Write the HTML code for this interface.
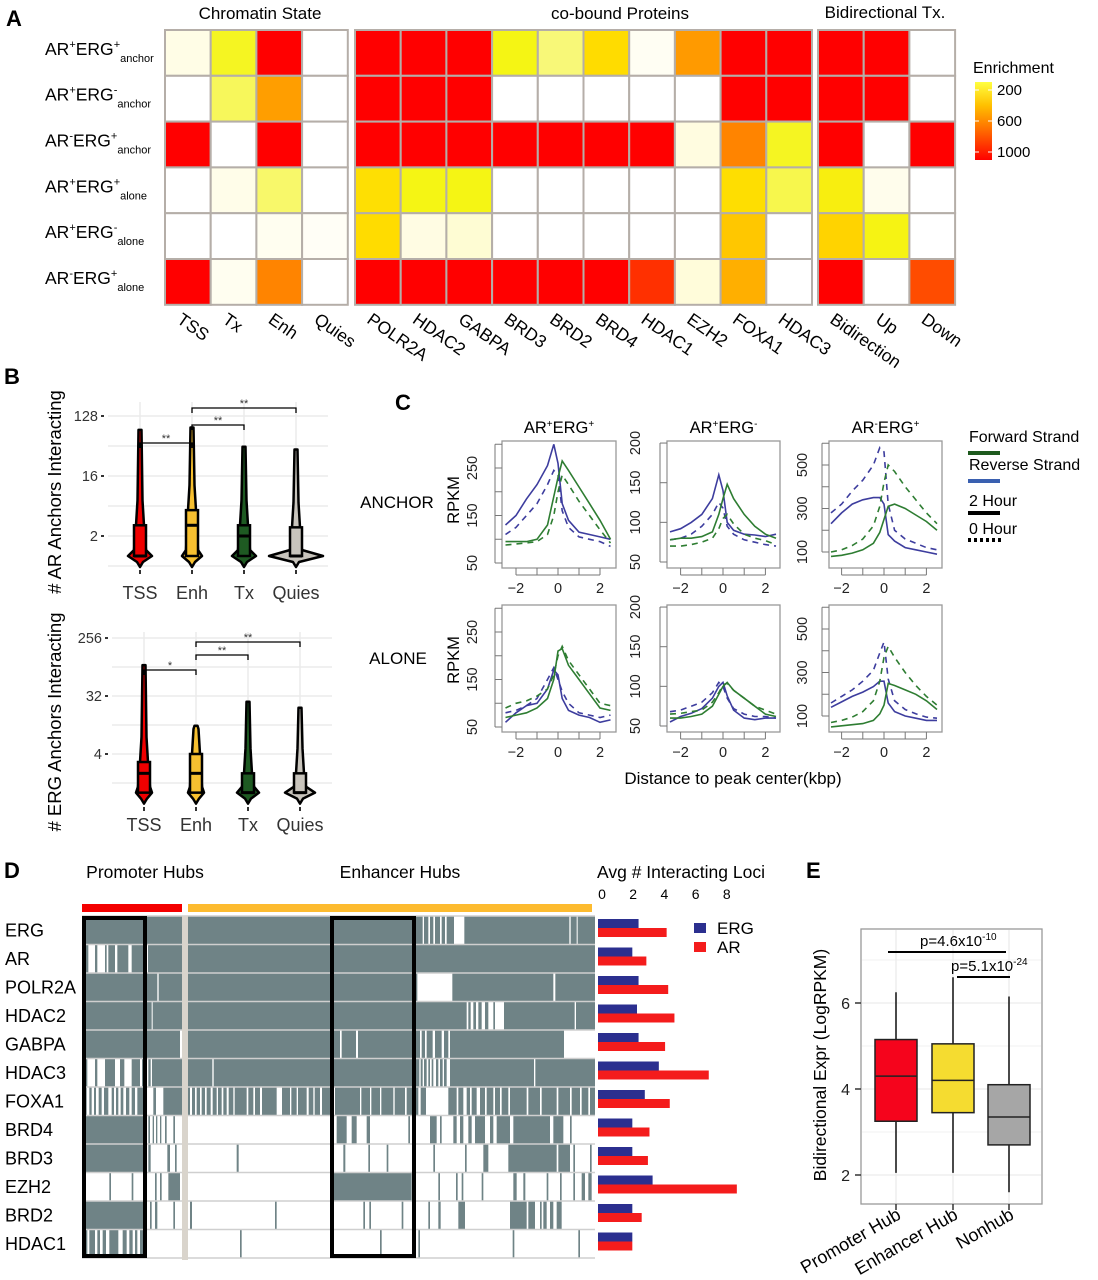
<!DOCTYPE html>
<html><head><meta charset="utf-8"><style>
html,body{margin:0;padding:0;background:#fff;}
svg{display:block;font-family:"Liberation Sans",Arial,sans-serif;}
</style></head><body>
<svg id="fig" width="1098" height="1280" viewBox="0 0 1098 1280" xmlns="http://www.w3.org/2000/svg">
<g font-weight="bold" font-size="22" fill="#000">
<text x="6" y="26">A</text>
<text x="4" y="384">B</text>
<text x="395" y="410">C</text>
<text x="4" y="878">D</text>
<text x="806" y="878">E</text>
</g>
<g id="A"></g>
<g id="B"></g>
<g id="C"></g>
<g id="D"></g>
<g id="E"></g>
</svg>
<script>
const NS="http://www.w3.org/2000/svg";
function mk(parent,tag,attrs,text){const e=document.createElementNS(NS,tag);for(const k in attrs)e.setAttribute(k,attrs[k]);if(text!==undefined)e.textContent=text;parent.appendChild(e);return e;}

/* ---------- Panel A data ---------- */
const rowLabelsA=[["+","+","anchor"],["+","-","anchor"],["-","+","anchor"],["+","+","alone"],["+","-","alone"],["-","+","alone"]];
const chromCols=["TSS","Tx","Enh","Quies"];
const protCols=["POLR2A","HDAC2","GABPA","BRD3","BRD2","BRD4","HDAC1","EZH2","FOXA1","HDAC3"];
const bidiCols=["Bidirection","Up","Down"];
const chromVals=[[40,190,1000,0],[0,150,560,0],[1000,0,1000,0],[0,35,140,0],[0,0,25,15],[1000,25,680,0]];
const protVals=[[1000,1000,1000,200,130,350,20,580,1000,1000],[1000,1000,1000,0,0,0,0,0,1000,1000],[1000,1000,1000,1000,1000,1000,1000,50,680,190],[330,200,200,0,0,0,0,0,340,160],[350,45,60,0,0,0,0,0,420,0],[1000,1000,1000,1000,1000,1000,900,55,500,0]];
const bidiVals=[[1000,1000,0],[1000,1000,0],[1000,0,1000],[240,30,0],[380,210,0],[1000,0,830]];
const legendTicks=[200,600,1000];

/* ---------- Panel B data ---------- */
const catsB=["TSS","Enh","Tx","Quies"];
const colorsB=["#f00000","#f7c030","#1e5a22","#c8c4bc"];
const arQ3=[2.9,4.9,2.9,2.7], arMed=[1,2.9,2,1], arMax=[79,86,44,40], arMin=[1,1,1,1];
const ergQ3=[3,4,2,2], ergMed=[2,2,1,1], ergMax=[97,11,26,21], ergMin=[1,1,1,1];
const arTicks=[2,16,128], ergTicks=[4,32,256];

/* ---------- Panel C data ---------- */
const xsC=[-2.5,-2,-1.5,-1,-0.5,-0.2,0,0.2,0.5,1,1.5,2,2.5];
const c1aBlue=[130,150,185,215,255,300,260,175,140,115,110,105,100];
const c1aBlueD=[110,125,150,175,215,245,235,160,125,105,100,95,85];
const c1aGreen=[95,95,95,100,130,190,230,265,245,210,175,140,100];
const c1aGreenD=[88,90,92,95,110,150,200,235,215,180,150,120,92];
const c2aBlue=[88,92,100,110,130,160,140,100,90,85,84,82,85];
const c2aBlueD=[78,80,85,95,110,125,118,95,85,78,75,72,70];
const c2aGreen=[78,80,80,82,88,110,130,148,130,110,95,85,80];
const c2aGreenD=[70,70,72,75,80,92,105,110,98,85,80,77,72];
const c3aBlue=[230,280,320,340,350,350,320,180,150,120,110,100,90];
const c3aBlueD=[280,320,380,430,500,580,560,320,200,160,140,120,110];
const c3aGreen=[80,85,95,110,140,190,250,310,320,300,270,240,200];
const c3aGreenD=[100,110,130,160,220,310,420,500,470,400,340,280,230];
const c1bBlue=[60,80,95,100,130,170,160,110,85,75,70,60,65];
const c1bBlueD=[80,85,95,110,150,175,150,125,100,80,75,70,75];
const c1bGreen=[70,75,80,90,110,150,210,215,180,150,120,90,85];
const c1bGreenD=[90,100,105,115,130,160,200,220,190,160,130,100,95];
const c2bBlue=[55,62,66,72,85,100,105,88,70,60,58,60,60];
const c2bBlueD=[68,70,75,80,92,105,100,85,72,65,62,62,60];
const c2bGreen=[60,60,62,65,75,90,100,105,95,85,75,65,62];
const c2bGreenD=[65,66,68,70,80,92,102,104,95,85,75,70,65];
const c3bBlue=[140,165,190,210,235,260,260,160,120,100,90,80,80];
const c3bBlueD=[160,190,220,260,310,390,440,270,170,130,110,95,90];
const c3bGreen=[50,55,60,65,80,110,150,250,240,220,200,170,130];
const c3bGreenD=[70,80,95,120,170,260,370,420,370,300,240,190,150];
const c1Ticks=[50,150,250], c2Ticks=[50,100,150,200], c3Ticks=[100,300,500], xTicksC=[-2,0,2];

/* ---------- Panel D data ---------- */
const rowsD=["ERG","AR","POLR2A","HDAC2","GABPA","HDAC3","FOXA1","BRD4","BRD3","EZH2","BRD2","HDAC1"];
const ergAvg=[2.6,2.2,2.6,2.5,2.6,3.9,3.0,2.2,2.2,3.5,2.2,2.2];
const arAvg=[4.4,3.1,4.5,4.9,4.3,7.1,4.6,3.3,3.2,8.9,2.8,2.2];
const barTicks=[0,2,4,6,8];
const baseD=["g","g","g","g","g","g","g","w","w","w","w","w"];
const spansD=[
[[1028,1032],[1045,1050],[1060,1065],[1080,1085],[1095,1100],[1122,1153],[1468,1472],[1490,1493]],
[[25,45],[52,75],[80,85],[105,112],[145,155],[200,204]],
[[232,236],[1012,1117],[1420,1426]],
[[215,218],[1160,1165],[1172,1180],[1188,1195],[1205,1215],[1225,1240],[1245,1272],[1484,1488]],
[[300,306],[780,785],[828,834],[1020,1025],[1035,1040],[1058,1065],[1085,1092],[1105,1110],[1452,1545]],
[[22,45],[52,75],[105,120],[133,155],[180,186],[200,205],[212,216],[397,401],[1018,1022],[1028,1032],[1040,1045],[1050,1055],[1060,1068],[1075,1080],[1088,1092],[1100,1110],[1362,1366]],
[[20,28],[35,42],[48,56],[65,72],[85,95],[102,108],[115,122],[130,138],[148,155],[165,172],[200,220],[228,250],[330,336],[345,350],[360,365],[375,380],[392,398],[410,414],[425,430],[440,446],[460,464],[500,505],[520,525],[540,546],[590,606],[630,634],[650,654],[680,686],[700,704],[720,726],[760,765],[840,844],[870,874],[900,904],[940,944],[975,980],[1015,1022],[1038,1105],[1130,1135],[1150,1160],[1170,1175],[1190,1200],[1215,1220],[1240,1245],[1260,1265],[1285,1290],[1340,1345],[1380,1385],[1430,1435],[1470,1475],[1500,1505],[1525,1530]],
[[5,190],[205,210],[218,222],[228,232],[240,244],[255,260],[280,285],[770,800],[815,830],[860,870],[985,990],[1050,1070],[1080,1085],[1120,1130],[1140,1150],[1165,1175],[1185,1215],[1230,1240],[1250,1290],[1300,1410],[1420,1450],[1470,1475]],
[[5,190],[205,212],[262,270],[285,290],[470,476],[790,796],[865,870],[920,925],[1060,1065],[1155,1160],[1210,1225],[1285,1430],[1435,1470],[1480,1485],[1530,1535]],
[[88,93],[155,160],[225,230],[240,245],[265,300],[760,995],[1075,1080],[1128,1133],[1145,1150],[1205,1210],[1300,1310],[1330,1336],[1400,1405],[1440,1445],[1480,1485],[1505,1515],[1525,1535]],
[[5,190],[210,215],[225,232],[280,285],[330,336],[585,590],[850,855],[868,873],[965,970],[1045,1050],[1075,1082],[1135,1155],[1290,1340],[1345,1365],[1380,1385],[1390,1400],[1410,1420],[1430,1445]],
[[15,22],[28,45],[52,60],[68,78],[88,115],[128,140],[148,158],[165,172],[180,190],[480,485],[900,905],[1015,1020],[1298,1303],[1495,1500]]
];

/* ---------- Panel E data ---------- */
const catsE=["Promoter Hub","Enhancer Hub","Nonhub"];
const colorsE=["#f5041c","#f5dc30","#a6a6a6"];
const eMin=[2.05,2.05,1.6], eQ1=[3.25,3.45,2.7], eMed=[4.3,4.2,3.35], eQ3=[5.15,5.05,4.1], eMax=[6.25,6.6,6.15];
const eTicks=[2,4,6];

/* ================= Panel A ================= */
(function(){
const g=document.getElementById("A");
const stops=[[0,[255,255,255]],[50,[255,252,224]],[130,[248,248,120]],[200,[245,245,20]],[350,[255,220,0]],[550,[255,160,0]],[700,[255,128,0]],[900,[255,48,0]],[1000,[255,0,0]]];
function col(v){v=Math.max(0,Math.min(1000,v));for(let i=1;i<stops.length;i++){if(v<=stops[i][0]){const a=stops[i-1],b=stops[i],t=(v-a[0])/(b[0]-a[0]);const c=a[1].map((x,j)=>Math.round(x+(b[1][j]-x)*t));return `rgb(${c})`;}}return "red";}
const y0=30,rh=45.8,cw=45.7;
function group(x0,cols,vals,name){
  vals.forEach((row,r)=>row.forEach((v,c)=>{
    const e=mk(g,"rect",{x:x0+c*cw,y:y0+r*rh,width:cw,height:rh,fill:col(v),stroke:"#b5aea8","stroke-width":2});
    
    
  }));
  cols.forEach((t,c)=>{
    const cx=x0+c*cw+cw/2-12;
    const e=mk(g,"text",{x:cx,y:322,"font-size":17.5,transform:`rotate(35 ${cx} 322)`},t);
    
    
  });
}
group(165,chromCols,chromVals,"chromatin");
group(355,protCols,protVals,"protein");
group(818,bidiCols,bidiVals,"bidirectional");
[["Chromatin State",260,19],["co-bound Proteins",620,19],["Bidirectional Tx.",885,18]].forEach(t=>{
  const e=mk(g,"text",{x:t[1],y:t[2],"font-size":17,"text-anchor":"middle"},t[0]);
  
  
});
rowLabelsA.forEach((l,r)=>{
  const y=y0+r*rh+rh/2+2;
  const t=mk(g,"text",{x:45,y:y,"font-size":17.5});
  
  
  mk(t,"tspan",{},"AR");
  mk(t,"tspan",{"font-size":11,dy:-7},l[0]);
  mk(t,"tspan",{dy:7},"ERG");
  mk(t,"tspan",{"font-size":11,dy:-7},l[1]);
  mk(t,"tspan",{"font-size":11,dy:14},l[2]);
});
const defs=mk(g,"defs",{});
const lg=mk(defs,"linearGradient",{id:"encg",x1:0,y1:0,x2:0,y2:1});
[[0,"#ffff40"],[0.3,"#ffc000"],[0.6,"#ff7000"],[1,"#ff0000"]].forEach(s=>mk(lg,"stop",{offset:s[0],"stop-color":s[1]}));
const lt=mk(g,"text",{x:973,y:73,"font-size":16},"Enrichment");

const lb=mk(g,"rect",{x:975,y:82,width:17,height:78,fill:"url(#encg)"});

legendTicks.forEach(v=>{
  const yy=90+(v-200)/800*62;
  mk(g,"line",{x1:975,x2:979,y1:yy,y2:yy,stroke:"#fff"});
  mk(g,"line",{x1:988,x2:992,y1:yy,y2:yy,stroke:"#fff"});
  const e=mk(g,"text",{x:997,y:yy+5,"font-size":15},v);
  
});
})();

/* ================= Panel B ================= */
(function(){
const g=document.getElementById("B");
const xsTop=[140,192,244,296], xsBot=[144,196,248,300];
function panel(yBase,yPer,refV,ticks,q3,med,mx,mn,xs,labY,widths,brk,title,titleY,x0,x1,yTop,yBot){
  const Y=v=>yBase-(Math.log2(v)-Math.log2(refV))*yPer;
  for(let k=-1;k<=6;k++){
    const y=yBase-k*1.5*yPer; if(y<yTop||y>yBot) continue;
    mk(g,"line",{x1:x0,x2:x1,y1:y,y2:y,stroke:"#ebebeb","stroke-width":1.5});
  }
  xs.forEach(x=>mk(g,"line",{x1:x,x2:x,y1:yTop,y2:yBot,stroke:"#ebebeb","stroke-width":1.5}));
  ticks.forEach(v=>{
    const y=Y(v);
    const e=mk(g,"text",{x:x0-10,y:y+5,"font-size":14.5,"text-anchor":"end",fill:"#333"},v);
    
    mk(g,"line",{x1:x0-7,x2:x0-4,y1:y,y2:y,stroke:"#333","stroke-width":2});
  });
  catsB.forEach((c,i)=>{
    const x=xs[i],w=widths[i];
    const yMin=Y(mn[i]), yMax=Y(mx[i]), yQ3=Y(q3[i]);
    const tip=yMin+11;
    const d=`M${x-1.5},${yMax} L${x+1.5},${yMax} L${x+2.5},${yQ3-25} L${x+4},${yQ3} L${x+6},${yMin-6} L${x+w},${yMin} L${x+3},${yMin+6} L${x},${tip} L${x-3},${yMin+6} L${x-w},${yMin} L${x-6},${yMin-6} L${x-4},${yQ3} L${x-2.5},${yQ3-25} Z`;
    const v=mk(g,"path",{d:d,fill:colorsB[i],stroke:"#000","stroke-width":2.5,"stroke-linejoin":"round"});
    
    const b=mk(g,"rect",{x:x-6,y:yQ3,width:12,height:Math.max(1,yMin-yQ3),fill:colorsB[i],stroke:"#000","stroke-width":2.5});
    
    mk(g,"line",{x1:x-6,x2:x+6,y1:Y(med[i]),y2:Y(med[i]),stroke:"#000","stroke-width":3});
    mk(g,"line",{x1:x,x2:x,y1:yBot+2,y2:yBot+6,stroke:"#333","stroke-width":2});
    const t=mk(g,"text",{x:x,y:labY,"font-size":18,"text-anchor":"middle",fill:"#333"},c);
    
  });
  brk.forEach(b=>{
    const xa=xs[b[0]],xb=xs[b[1]],y=b[2];
    mk(g,"path",{d:`M${xa},${y+5} V${y} H${xb} V${y+5}`,fill:"none",stroke:"#000","stroke-width":1.3});
    mk(g,"text",{x:(xa+xb)/2,y:y-1,"font-size":11,"text-anchor":"middle",fill:"#333"},b[3]);
  });
  const tt=mk(g,"text",{x:61,y:titleY,"font-size":18.5,"text-anchor":"middle",transform:`rotate(-90 61 ${titleY})`},title);
  
}
panel(536,20,2,arTicks,arQ3,arMed,arMax,arMin,xsTop,599,[12,10,12,27],[[0,1,443,"**"],[1,2,425,"**"],[1,3,408,"**"]],"# AR Anchors Interacting",492,108,328,402,568);
panel(754,19.33,4,ergTicks,ergQ3,ergMed,ergMax,ergMin,xsBot,831,[8,8,11,15],[[0,1,670,"*"],[1,2,655,"**"],[1,3,642,"**"]],"# ERG Anchors Interacting",722,112,332,632,805);
})();

/* ================= Panel C ================= */
(function(){
const g=document.getElementById("C");
const cols=[
 {bx:502,bw:114,x0:558,xs:21,vRef:50,yRef:563,py:0.475,ticks:c1Ticks,minor:[50,100,150,200,250,300],tx:477,series:[[c1aBlue,c1aBlueD,c1aGreen,c1aGreenD],[c1bBlue,c1bBlueD,c1bGreen,c1bGreenD]]},
 {bx:667,bw:113,x0:723,xs:21.2,vRef:50,yRef:562,py:0.793,ticks:c2Ticks,minor:[50,100,150,200],tx:640,series:[[c2aBlue,c2aBlueD,c2aGreen,c2aGreenD],[c2bBlue,c2bBlueD,c2bGreen,c2bGreenD]]},
 {bx:829,bw:113,x0:884,xs:21.2,vRef:100,yRef:552,py:0.2175,ticks:c3Ticks,minor:[100,200,300,400,500,600],tx:807,series:[[c3aBlue,c3aBlueD,c3aGreen,c3aGreenD],[c3bBlue,c3bBlueD,c3bGreen,c3bGreenD]]}
];
const titles=[["+","+"],["+","-"],["-","+"]];
const styles=[["#3d3d9e",""],["#3d3d9e","6,5"],["#2e7d32",""],["#2e7d32","6,5"]];
cols.forEach((c,ci)=>{
  const t=mk(g,"text",{x:c.bx+c.bw/2,y:433,"font-size":16.5,"text-anchor":"middle"});
  
  mk(t,"tspan",{},"AR");mk(t,"tspan",{"font-size":10,dy:-6},titles[ci][0]);mk(t,"tspan",{dy:6},"ERG");mk(t,"tspan",{"font-size":10,dy:-6},titles[ci][1]);
  [0,164].forEach((off,ri)=>{
    const X=v=>c.x0+v*c.xs, Y=v=>c.yRef+off-(v-c.vRef)*c.py;
    const top=441+off, bot=568+off;
    const r=mk(g,"rect",{x:c.bx,y:top,width:c.bw,height:bot-top,fill:"#fff",stroke:"#999","stroke-width":1.3});
    
    c.minor.forEach(v=>{const y=Y(v);if(y>=top-4)mk(g,"line",{x1:c.bx-7,x2:c.bx,y1:y,y2:y,stroke:"#777"});});
    mk(g,"line",{x1:c.bx-7,x2:c.bx-7,y1:Y(c.minor[0]),y2:Y(c.minor[c.minor.length-1]),stroke:"#777"});
    c.ticks.forEach(v=>{const y=Y(v);const e=mk(g,"text",{x:c.tx,y:y,"font-size":14.5,"text-anchor":"middle",transform:`rotate(-90 ${c.tx} ${y})`,fill:"#222"},v);
      });
    [-2,-1,0,1,2].forEach(v=>mk(g,"line",{x1:X(v),x2:X(v),y1:bot,y2:bot+7,stroke:"#777"}));
    mk(g,"line",{x1:X(-2),x2:X(2),y1:bot+7,y2:bot+7,stroke:"#777"});
    xTicksC.forEach(v=>{const e=mk(g,"text",{x:X(v),y:bot+25,"font-size":14.5,"text-anchor":"middle",fill:"#222"},v===-2?"\u22122":v);
      });
    c.series[ri].forEach((s,si)=>{
      const d=s.map((v,i)=>(i?"L":"M")+X(xsC[i]).toFixed(1)+","+Y(v).toFixed(1)).join(" ");
      const p=mk(g,"path",{d:d,fill:"none",stroke:styles[si][0],"stroke-width":1.6,"stroke-dasharray":styles[si][1]});
      
      
    });
  });
});
[["RPKM",453,500],["RPKM",453,660]].forEach(t=>{const e=mk(g,"text",{x:t[1]+6,y:t[2],"font-size":16.5,"text-anchor":"middle",transform:`rotate(-90 ${t[1]+6} ${t[2]})`},t[0]);
  });
[["ANCHOR",397,508],["ALONE",398,664]].forEach(t=>{const e=mk(g,"text",{x:t[1],y:t[2],"font-size":17,"text-anchor":"middle"},t[0]);
  });
const xl=mk(g,"text",{x:733,y:784,"font-size":17,"text-anchor":"middle"},"Distance to peak center(kbp)");

[["Forward Strand",442],["Reverse Strand",470],["2 Hour",506],["0 Hour",534]].forEach(t=>{const e=mk(g,"text",{x:969,y:t[1],"font-size":16},t[0]);
  });
mk(g,"line",{x1:968,x2:1000,y1:453,y2:453,stroke:"#1e5a1e","stroke-width":4});
mk(g,"line",{x1:968,x2:1000,y1:481,y2:481,stroke:"#3a60b0","stroke-width":4});
mk(g,"line",{x1:968,x2:1000,y1:513,y2:513,stroke:"#000","stroke-width":4});
mk(g,"line",{x1:968,x2:1002,y1:540,y2:540,stroke:"#000","stroke-width":4,"stroke-dasharray":"3,3"});
})();

/* ================= Panel D ================= */
(function(){
const g=document.getElementById("D");
const x0=82,x1=595,y0=916,rh=28.5;
const gray="#6f8386";
const zx=v=>Math.max(x0,Math.min(x1,80+v/3));
rowsD.forEach((name,r)=>{
  const y=y0+r*rh;
  const base=baseD[r]==="g"?gray:"#fff", other=baseD[r]==="g"?"#fff":gray;
  const br=mk(g,"rect",{x:x0,y:y,width:x1-x0,height:rh,fill:base});
  
  spansD[r].forEach(s=>{
    const a=zx(s[0]),b=zx(s[1]);
    mk(g,"rect",{x:a,y:y,width:Math.max(1,b-a),height:rh,fill:other});
  });
  mk(g,"line",{x1:x0,x2:x1,y1:y,y2:y,stroke:"#cfcfcf","stroke-width":1.5});
  const t=mk(g,"text",{x:5,y:y+rh/2+6,"font-size":18},name);
  
});
mk(g,"line",{x1:x0,x2:x1,y1:y0+12*rh,y2:y0+12*rh,stroke:"#cfcfcf","stroke-width":1.5});
const dv=mk(g,"rect",{x:182,y:y0,width:6,height:12*rh+2,fill:"#d9d4cc"});

const rb=mk(g,"rect",{x:82,y:904,width:100,height:8,fill:"#f40000"});

const ob=mk(g,"rect",{x:188,y:904,width:404,height:8,fill:"#fdbb2f"});

[[84,145],[332,414]].forEach(b=>{const e=mk(g,"rect",{x:b[0],y:918,width:b[1]-b[0],height:338,fill:"none",stroke:"#000","stroke-width":4});
  });
[["Promoter Hubs",145],["Enhancer Hubs",400]].forEach(t=>{const e=mk(g,"text",{x:t[1],y:878,"font-size":17.5,"text-anchor":"middle"},t[0]);
  });
const BX=v=>598+v*15.6;
const bt=mk(g,"text",{x:597,y:878,"font-size":17.5},"Avg # Interacting Loci");

barTicks.forEach(v=>{const e=mk(g,"text",{x:BX(v)+4,y:899,"font-size":14,"text-anchor":"middle"},v);
  });
rowsD.forEach((name,r)=>{
  const y=y0+r*rh;
  const b1=mk(g,"rect",{x:598,y:y+3,width:BX(ergAvg[r])-598,height:9,fill:"#2b2f8f"});
  
  const b2=mk(g,"rect",{x:598,y:y+12,width:BX(arAvg[r])-598,height:9,fill:"#f41c1c"});
  
});
mk(g,"rect",{x:694,y:923,width:12,height:10,fill:"#2b2f8f"});
mk(g,"rect",{x:694,y:942,width:12,height:10,fill:"#f41c1c"});
[["ERG",934],["AR",953]].forEach(t=>{const e=mk(g,"text",{x:717,y:t[1],"font-size":17},t[0]);
  });
})();

/* ================= Panel E ================= */
(function(){
const g=document.getElementById("E");
const Y=v=>1089-(v-4)*43;
const xs=[896,953,1009];
const fr=mk(g,"rect",{x:861,y:929,width:181,height:275,fill:"#fff",stroke:"#999","stroke-width":1.3});

[2,3,4,5,6,7].forEach(v=>mk(g,"line",{x1:862,x2:1041,y1:Y(v),y2:Y(v),stroke:"#ececec","stroke-width":v%2?0.8:1.3}));
xs.forEach(x=>mk(g,"line",{x1:x,x2:x,y1:930,y2:1203,stroke:"#ececec","stroke-width":1.3}));
eTicks.forEach(v=>{
  mk(g,"line",{x1:855,x2:861,y1:Y(v),y2:Y(v),stroke:"#333","stroke-width":1.5});
  const e=mk(g,"text",{x:850,y:Y(v)+6,"font-size":16,"text-anchor":"end",fill:"#222"},v);
  
});
catsE.forEach((c,i)=>{
  const x=xs[i];
  mk(g,"line",{x1:x,x2:x,y1:Y(eMax[i]),y2:Y(eMin[i]),stroke:"#111","stroke-width":1.5});
  const b=mk(g,"rect",{x:x-21,y:Y(eQ3[i]),width:42,height:Y(eQ1[i])-Y(eQ3[i]),fill:colorsE[i],stroke:"#222","stroke-width":1.5});
  
  mk(g,"line",{x1:x-21,x2:x+21,y1:Y(eMed[i]),y2:Y(eMed[i]),stroke:"#222","stroke-width":1.5});
  mk(g,"line",{x1:x,x2:x,y1:1204,y2:1210,stroke:"#333","stroke-width":1.5});
  const t=mk(g,"text",{x:x+6,y:1218,"font-size":18,"text-anchor":"end",transform:`rotate(-30 ${x+6} 1218)`},c);
  
});
mk(g,"line",{x1:888,x2:1006,y1:952,y2:952,stroke:"#000","stroke-width":2});
mk(g,"line",{x1:957,x2:1010,y1:977,y2:977,stroke:"#000","stroke-width":2});
[["p=4.6x10","-10",920,946],["p=5.1x10","-24",951,971]].forEach(p=>{
  const t=mk(g,"text",{x:p[2],y:p[3],"font-size":15});
  
  mk(t,"tspan",{},p[0]);mk(t,"tspan",{"font-size":10,dy:-6},p[1]);
});
const yt=mk(g,"text",{x:826,y:1065,"font-size":17.5,"text-anchor":"middle",transform:"rotate(-90 826 1065)"},"Bidirectional Expr (LogRPKM)");

})();
</script>
</body></html>
